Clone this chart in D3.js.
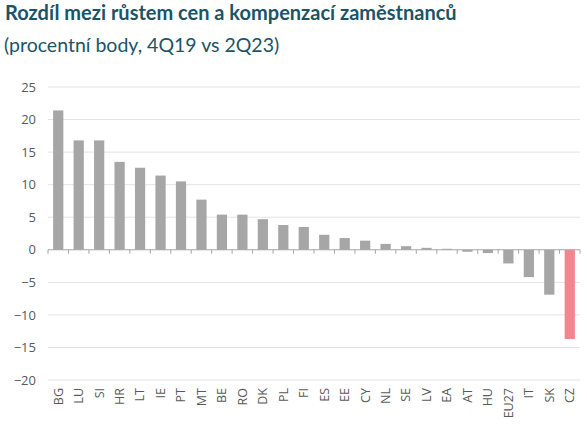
<!DOCTYPE html>
<html><head><meta charset="utf-8">
<script src="https://cdn.jsdelivr.net/npm/d3@7"></script>
<style>body{margin:0;background:#fff}svg{display:block}</style>
</head><body>
<svg id="c" width="587" height="428"></svg>
<script>
const categories = ["BG","LU","SI","HR","LT","IE","PT","MT","BE","RO","DK","PL","FI","ES","EE","CY","NL","SE","LV","EA","AT","HU","EU27","IT","SK","CZ"];
const values = [21.4,16.8,16.8,13.5,12.6,11.4,10.5,7.7,5.4,5.4,4.7,3.8,3.5,2.3,1.8,1.4,0.9,0.55,0.3,0.15,-0.3,-0.5,-2.1,-4.2,-6.9,-13.7];
const highlight = ["CZ"];
const yTicks = [25,20,15,10,5,0,-5,-10,-15,-20];
const title = "Rozdíl mezi růstem cen a kompenzací zaměstnanců";
const subtitle = "(procentní body, 4Q19 vs 2Q23)";

const svg = d3.select("#c");
const m = {left:48, right:7, top:87, bottom:48};
const W = 587, H = 428;
const x = d3.scaleBand().domain(categories).range([m.left, W - m.right]).paddingInner(0.5).paddingOuter(0.25);
const y = d3.scaleLinear().domain([-20,25]).range([380, 87]);

svg.append("text").attr("x",5).attr("y",20).text(title)
  .attr("font-family","Lato, 'Open Sans', sans-serif").attr("font-weight","bold")
  .attr("font-size",20).attr("fill","#1b5466");
svg.append("text").attr("x",4).attr("y",52).text(subtitle)
  .attr("font-family","Lato, 'Open Sans', sans-serif")
  .attr("font-size",19.5).attr("fill","#1b5466");

// gridlines
svg.append("g").selectAll("line").data(yTicks.filter(d=>d!==0)).join("line")
  .attr("x1",m.left).attr("x2",W-m.right)
  .attr("y1",d=>y(d)).attr("y2",d=>y(d))
  .attr("stroke","#e3e3e3").attr("stroke-width",1);

// y labels
const yAxis = d3.axisLeft(y).tickValues(yTicks).tickSize(0).tickPadding(12);
const gy = svg.append("g").attr("transform",`translate(${m.left},0)`).call(yAxis);
gy.select(".domain").remove();
gy.selectAll("text").attr("font-family","'Open Sans', Lato, sans-serif").attr("font-size",13).attr("fill","#595959");

// bars
svg.append("g").selectAll("rect").data(categories).join("rect")
  .attr("x",d=>x(d))
  .attr("width",x.bandwidth())
  .attr("y",(d,i)=>y(Math.max(0,values[i])))
  .attr("height",(d,i)=>Math.abs(y(values[i])-y(0)))
  .attr("fill",d=>highlight.includes(d)?"#f4858e":"#a6a6a6");

// x axis at zero
const bounds = d3.range(categories.length+1).map(i=>m.left + i*(W-m.right-m.left)/categories.length);
const gx = svg.append("g");
gx.append("line").attr("x1",m.left).attr("x2",W-m.right).attr("y1",y(0)).attr("y2",y(0))
  .attr("stroke","#a6a6a6").attr("stroke-width",1);
gx.selectAll("line.t").data(bounds).join("line").attr("class","t")
  .attr("x1",d=>d).attr("x2",d=>d).attr("y1",y(0)).attr("y2",y(0)+4)
  .attr("stroke","#a6a6a6").attr("stroke-width",1);

// x labels rotated
const xAxis = d3.axisBottom(x).tickSize(0).tickPadding(0);
const gxl = svg.append("g").attr("transform",`translate(0,${y(-20)+8})`).call(xAxis);
gxl.select(".domain").remove();
gxl.selectAll("text")
  .attr("font-family","'Open Sans', Lato, sans-serif").attr("font-size",12.5).attr("fill","#595959")
  .attr("transform","rotate(-90)").attr("text-anchor","end").attr("dy","0.35em").attr("y",0).attr("x",0);
</script>
</body></html>
